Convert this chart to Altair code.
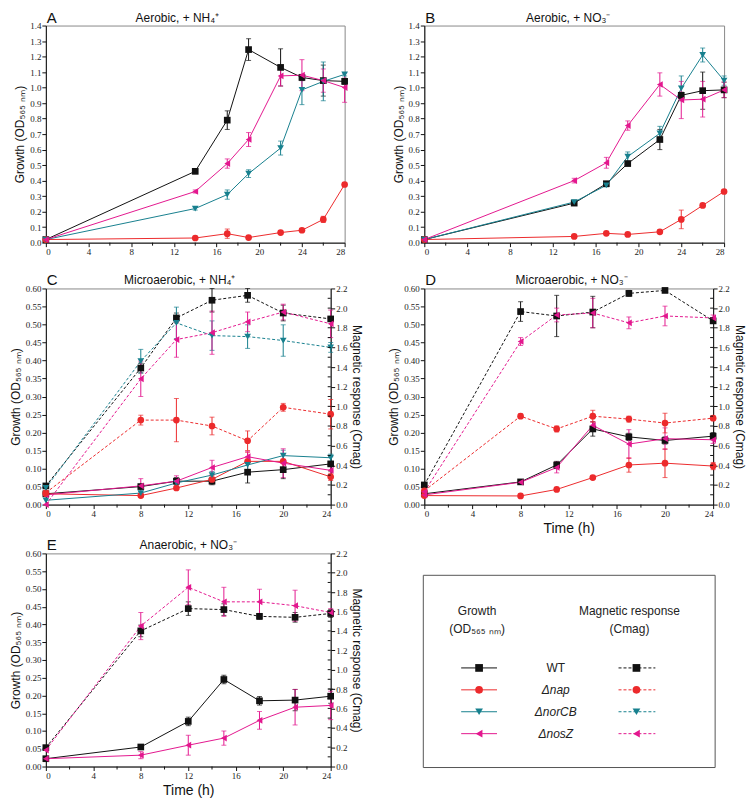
import altair as alt
import pandas as pd

SANS = "Liberation Sans"
SERIF = "Liberation Serif"

strains = ["WT", "Δnap", "ΔnorCB", "ΔnosZ"]
strain_colors = ["#111111", "#ec2a2c", "#17808e", "#e3178e"]
strain_shapes = ["square", "circle", "triangle-down", "triangle-left"]

x_ticks_aerobic = [0, 4, 8, 12, 16, 20, 24, 28]
x_minor_aerobic = [2, 6, 10, 14, 18, 22, 26]
x_ticks_micro = [0, 4, 8, 12, 16, 20, 24]
x_minor_micro = [2, 6, 10, 14, 18, 22]
y_ticks_aerobic = [0.0, 0.1, 0.2, 0.3, 0.4, 0.5, 0.6, 0.7, 0.8, 0.9, 1.0, 1.1, 1.2, 1.3, 1.4]
y_ticks_growth = [0.0, 0.05, 0.10, 0.15, 0.20, 0.25, 0.30, 0.35, 0.40, 0.45, 0.50, 0.55, 0.60]
y_ticks_cmag = [0.0, 0.2, 0.4, 0.6, 0.8, 1.0, 1.2, 1.4, 1.6, 1.8, 2.0, 2.2]
y_inner_cmag = [0.1, 0.2, 0.3, 0.4, 0.5, 0.6, 0.7, 0.8, 0.9, 1.0, 1.1,
                1.2, 1.3, 1.4, 1.5, 1.6, 1.7, 1.8, 1.9, 2.0, 2.1]

# ---------- Panel A: Aerobic, + NH4+ (growth only)
a_time = [0, 14, 17, 19, 22, 24, 26, 28]
a_wt = [0.02, 0.46, 0.79, 1.245, 1.13, 1.065, 1.045, 1.04]
a_wt_err = [0, 0.015, 0.06, 0.07, 0.12, 0.02, 0.10, 0.02]
a_nap = [0.02, 0.03, 0.058, 0.033, 0.065, 0.08, 0.15, 0.375]
a_nap_err = [0, 0.005, 0.03, 0.005, 0.01, 0.01, 0.02, 0.01]
a_nor = [0.02, 0.22, 0.31, 0.445, 0.61, 0.985, 1.04, 1.085]
a_nor_err = [0, 0.01, 0.03, 0.025, 0.045, 0.095, 0.125, 0.01]
a_nos = [0.02, 0.33, 0.51, 0.665, 1.075, 1.08, 1.045, 1.0]
a_nos_err = [0, 0.01, 0.03, 0.045, 0.065, 0.10, 0.075, 0.095]

# ---------- Panel B: Aerobic, + NO3- (growth only)
b_time = [0, 14, 17, 19, 22, 24, 26, 28]
b_wt = [0.02, 0.255, 0.38, 0.51, 0.665, 0.95, 0.98, 0.985]
b_wt_err = [0, 0.01, 0.01, 0.01, 0.065, 0.02, 0.12, 0.05]
b_nap = [0.02, 0.04, 0.06, 0.053, 0.07, 0.15, 0.24, 0.33]
b_nap_err = [0, 0.005, 0.01, 0.005, 0.01, 0.06, 0.01, 0.01]
b_nor = [0.02, 0.262, 0.37, 0.555, 0.705, 0.995, 1.21, 1.045]
b_nor_err = [0, 0.01, 0.01, 0.03, 0.045, 0.08, 0.045, 0.03]
b_nos = [0.02, 0.40, 0.515, 0.755, 1.02, 0.92, 0.925, 0.985]
b_nos_err = [0, 0.015, 0.035, 0.03, 0.075, 0.12, 0.115, 0.05]

# ---------- Panel C: Microaerobic, + NH4+
c_time = [0, 8, 11, 14, 17, 20, 24]
c_wt = [0.03, 0.05, 0.065, 0.065, 0.09, 0.097, 0.113]
c_wt_err = [0, 0.005, 0.01, 0.01, 0.03, 0.025, 0.02]
c_nap = [0.03, 0.025, 0.046, 0.07, 0.12, 0.12, 0.077]
c_nap_err = [0, 0.005, 0.005, 0.01, 0.025, 0.02, 0.01]
c_nor = [0.012, 0.032, 0.06, 0.082, 0.11, 0.136, 0.13]
c_nor_err = [0, 0.005, 0.01, 0.01, 0.015, 0.015, 0.01]
c_nos = [0.027, 0.052, 0.065, 0.103, 0.133, 0.115, 0.095]
c_nos_err = [0, 0.02, 0.015, 0.02, 0.015, 0.04, 0.02]
c_wt_cmag = [0.19, 1.39, 1.90, 2.08, 2.13, 1.95, 1.89]
c_wt_cmag_err = [0, 0.05, 0.05, 0.12, 0.07, 0.08, 0.02]
c_nap_cmag = [0.12, 0.86, 0.86, 0.80, 0.65, 0.99, 0.92]
c_nap_cmag_err = [0, 0.05, 0.22, 0.09, 0.10, 0.04, 0.15]
c_nor_cmag = [0.17, 1.46, 1.85, 1.72, 1.71, 1.67, 1.60]
c_nor_cmag_err = [0, 0.12, 0.16, 0.15, 0.12, 0.16, 0.05]
c_nos_cmag = [0.0, 1.28, 1.68, 1.75, 1.86, 1.96, 1.84]
c_nos_cmag_err = [0, 0.18, 0.18, 0.22, 0.10, 0.08, 0.14]

# ---------- Panel D: Microaerobic, + NO3-
d_time = [0, 8, 11, 14, 17, 20, 24]
d_wt = [0.03, 0.063, 0.11, 0.21, 0.188, 0.178, 0.19]
d_wt_err = [0, 0.005, 0.01, 0.02, 0.01, 0.01, 0.01]
d_nap = [0.025, 0.024, 0.042, 0.075, 0.11, 0.115, 0.107]
d_nap_err = [0, 0.003, 0.004, 0.005, 0.02, 0.04, 0.01]
d_nos = [0.027, 0.062, 0.103, 0.22, 0.168, 0.183, 0.18]
d_nos_err = [0, 0.005, 0.015, 0.01, 0.04, 0.03, 0.01]
d_wt_cmag = [0.20, 1.965, 1.92, 1.96, 2.15, 2.18, 1.87]
d_wt_cmag_err = [0, 0.10, 0.21, 0.16, 0.03, 0.01, 0.02]
d_nap_cmag = [0.14, 0.90, 0.77, 0.90, 0.87, 0.83, 0.88]
d_nap_cmag_err = [0, 0.02, 0.03, 0.06, 0.03, 0.10, 0.02]
d_nos_cmag = [0.13, 1.66, 1.93, 1.95, 1.85, 1.92, 1.90]
d_nos_cmag_err = [0, 0.04, 0.07, 0.15, 0.06, 0.10, 0.03]

# ---------- Panel E: Anaerobic, + NO3-
e_time = [0, 8, 12, 15, 18, 21, 24]
e_wt = [0.022, 0.055, 0.127, 0.245, 0.185, 0.187, 0.198]
e_wt_err = [0, 0.004, 0.012, 0.012, 0.012, 0.03, 0.02]
e_nos = [0.022, 0.032, 0.06, 0.08, 0.13, 0.167, 0.172]
e_nos_err = [0, 0.01, 0.028, 0.02, 0.025, 0.05, 0.04]
e_wt_cmag = [0.195, 1.40, 1.63, 1.62, 1.55, 1.54, 1.58]
e_wt_cmag_err = [0, 0.06, 0.07, 0.06, 0.03, 0.05, 0.04]
e_nos_cmag = [0.17, 1.45, 1.85, 1.70, 1.70, 1.66, 1.59]
e_nos_cmag_err = [0, 0.14, 0.18, 0.15, 0.13, 0.16, 0.04]

growth_title = "Growth (OD₅₆₅ ₙₘ)"
cmag_title = "Magnetic response (Cmag)"


def frame(times, series):
    recs = []
    for strain, vals, errs in series:
        for t, v, e in zip(times, vals, errs):
            recs.append({"strain": strain, "t": t, "v": v, "err": e,
                         "lo": v - e, "hi": v + e})
    return pd.DataFrame(recs)


color_enc = alt.Color("strain:N", scale=alt.Scale(domain=strains, range=strain_colors), legend=None)
shape_enc = alt.Shape("strain:N", scale=alt.Scale(domain=strains, range=strain_shapes), legend=None)


def x_enc(ticks, xmax, title):
    if title:
        ax = alt.Axis(values=ticks, title=title, titleFontSize=14, titlePadding=3)
    else:
        ax = alt.Axis(values=ticks, title=None)
    return alt.X("t:Q", scale=alt.Scale(domain=[0, xmax], nice=False), axis=ax)


def series_layer(df, x, ymax, yticks, fmt, title, orient, dashed, w=None):
    yscale = alt.Scale(domain=[0, ymax], nice=False)
    yaxis = alt.Axis(values=yticks, format=fmt, title=title, orient=orient)
    base = alt.Chart(df)
    if dashed:
        line = base.mark_line(strokeWidth=1, strokeDash=[3, 2])
    else:
        line = base.mark_line(strokeWidth=1)
    line = line.encode(x=x, y=alt.Y("v:Q", scale=yscale, axis=yaxis, title=title), color=color_enc)
    err = base.transform_filter("datum.err > 0").mark_errorbar(ticks=True, thickness=1).encode(
        x=x, y=alt.Y("lo:Q", scale=yscale, axis=yaxis, title=title), y2="hi:Q", color=color_enc)
    pts = base.mark_point(filled=True, size=45, opacity=1).encode(
        x=x, y=alt.Y("v:Q", scale=yscale, axis=yaxis, title=title), color=color_enc, shape=shape_enc)
    layers = [line, err, pts]
    if w is not None:
        inner = alt.Chart(pd.DataFrame({"m": y_inner_cmag})).mark_rule(
            color="#111111", strokeWidth=1
        ).encode(y=alt.Y("m:Q", scale=yscale, axis=yaxis, title=title),
                 x=alt.value(w - 3), x2=alt.value(w))
        layers.append(inner)
    return alt.layer(*layers)


def text_layer(txt, xv, yv, size, align):
    return alt.Chart(pd.DataFrame({"l": [txt]})).mark_text(
        align=align, baseline="alphabetic", fontSize=size, font=SANS, color="#111111"
    ).encode(text="l:N", x=alt.value(xv), y=alt.value(yv))


def panel(letter, title, title_frac, gdf, cdf, xticks, xminor, xmax, ymax, yticks, fmt, xtitle, w, h):
    x = x_enc(xticks, xmax, xtitle)
    g = series_layer(gdf, x, ymax, yticks, fmt, growth_title, "left", False)
    minor = alt.Chart(pd.DataFrame({"t": xminor})).mark_rule(color="#111111", strokeWidth=1).encode(
        x=x, y=alt.value(h), y2=alt.value(h + 3))
    layers = [g, minor]
    if cdf is not None:
        c = series_layer(cdf, x, 2.2, y_ticks_cmag, ".1f", cmag_title, "right", True, w)
        layers.append(c)
    layers.append(text_layer(letter, 1, -3, 15, "left"))
    layers.append(text_layer(title, w * title_frac, -4, 12, "center"))
    ch = alt.layer(*layers)
    if cdf is not None:
        ch = ch.resolve_scale(y="independent")
    return ch.properties(width=w, height=h)


dfA = frame(a_time, [("WT", a_wt, a_wt_err), ("Δnap", a_nap, a_nap_err),
                     ("ΔnorCB", a_nor, a_nor_err), ("ΔnosZ", a_nos, a_nos_err)])
dfB = frame(b_time, [("WT", b_wt, b_wt_err), ("Δnap", b_nap, b_nap_err),
                     ("ΔnorCB", b_nor, b_nor_err), ("ΔnosZ", b_nos, b_nos_err)])
dfC = frame(c_time, [("WT", c_wt, c_wt_err), ("Δnap", c_nap, c_nap_err),
                     ("ΔnorCB", c_nor, c_nor_err), ("ΔnosZ", c_nos, c_nos_err)])
dfCc = frame(c_time, [("WT", c_wt_cmag, c_wt_cmag_err), ("Δnap", c_nap_cmag, c_nap_cmag_err),
                      ("ΔnorCB", c_nor_cmag, c_nor_cmag_err), ("ΔnosZ", c_nos_cmag, c_nos_cmag_err)])
dfD = frame(d_time, [("WT", d_wt, d_wt_err), ("Δnap", d_nap, d_nap_err), ("ΔnosZ", d_nos, d_nos_err)])
dfDc = frame(d_time, [("WT", d_wt_cmag, d_wt_cmag_err), ("Δnap", d_nap_cmag, d_nap_cmag_err),
                      ("ΔnosZ", d_nos_cmag, d_nos_cmag_err)])
dfE = frame(e_time, [("WT", e_wt, e_wt_err), ("ΔnosZ", e_nos, e_nos_err)])
dfEc = frame(e_time, [("WT", e_wt_cmag, e_wt_cmag_err), ("ΔnosZ", e_nos_cmag, e_nos_cmag_err)])

pA = panel("A", "Aerobic, + NH₄⁺", 0.44, dfA, None, x_ticks_aerobic, x_minor_aerobic, 28, 1.4,
           y_ticks_aerobic, ".1f", None, 300, 218)
pB = panel("B", "Aerobic, + NO₃⁻", 0.48, dfB, None, x_ticks_aerobic, x_minor_aerobic, 28, 1.4,
           y_ticks_aerobic, ".1f", None, 301, 218)
pC = panel("C", "Microaerobic, + NH₄⁺", 0.47, dfC, dfCc, x_ticks_micro, x_minor_micro, 24, 0.6,
           y_ticks_growth, ".2f", None, 286, 217)
pD = panel("D", "Microaerobic, + NO₃⁻", 0.51, dfD, dfDc, x_ticks_micro, x_minor_micro, 24, 0.6,
           y_ticks_growth, ".2f", "Time (h)", 290, 217)
pE = panel("E", "Anaerobic, + NO₃⁻", 0.5, dfE, dfEc, x_ticks_micro, x_minor_micro, 24, 0.6,
           y_ticks_growth, ".2f", "Time (h)", 286, 214)

# ---------- Legend panel
LEG_W = 293
LEG_H = 215
leg_df = pd.DataFrame({"strain": strains})
leg_y = alt.Y("strain:N", scale=alt.Scale(type="point", domain=strains, range=[115, 181], padding=0), axis=None)
legbase = alt.Chart(leg_df)
one = pd.DataFrame({"k": [0]})

box = alt.Chart(one).mark_rect(fill="white", fillOpacity=0, stroke="#555555", strokeWidth=1).encode(
    x=alt.value(0), x2=alt.value(LEG_W), y=alt.value(22), y2=alt.value(LEG_H))


def hdr(txt, xv, yv):
    return alt.Chart(pd.DataFrame({"s": [txt]})).mark_text(
        font=SANS, fontSize=12, align="center", baseline="middle", color="#222222"
    ).encode(text="s:N", x=alt.value(xv), y=alt.value(yv))


g_rule = legbase.mark_rule(strokeWidth=1).encode(x=alt.value(38), x2=alt.value(74), y=leg_y, color=color_enc)
g_pts = legbase.mark_point(filled=True, size=60, opacity=1).encode(x=alt.value(56), y=leg_y, color=color_enc, shape=shape_enc)
c_rule = legbase.mark_rule(strokeWidth=1, strokeDash=[3, 2]).encode(x=alt.value(196), x2=alt.value(233), y=leg_y, color=color_enc)
c_pts = legbase.mark_point(filled=True, size=60, opacity=1).encode(x=alt.value(214), y=leg_y, color=color_enc, shape=shape_enc)
lab_wt = legbase.transform_filter("datum.strain == 'WT'").mark_text(
    font=SANS, fontSize=12, align="center", baseline="middle", color="#222222").encode(
    text="strain:N", x=alt.value(133), y=leg_y)
lab_mut = legbase.transform_filter("datum.strain != 'WT'").mark_text(
    font=SANS, fontSize=12, fontStyle="italic", align="center", baseline="middle", color="#222222").encode(
    text="strain:N", x=alt.value(133), y=leg_y)

legend_panel = alt.layer(
    box, hdr("Growth", 54, 58), hdr("(OD₅₆₅ ₙₘ)", 54, 76),
    hdr("Magnetic response", 207, 58), hdr("(Cmag)", 207, 76),
    g_rule, c_rule, g_pts, c_pts, lab_wt, lab_mut,
).properties(width=LEG_W, height=LEG_H, view=alt.ViewBackground(stroke="transparent"))

row1 = alt.hconcat(pA, pB, spacing=43)
row2 = alt.hconcat(pC, pD, spacing=23)
row3 = alt.hconcat(pE, legend_panel, spacing=59)

chart = alt.vconcat(alt.vconcat(row1, row2, spacing=15), row3, spacing=1).properties(
    padding=0
).configure_axis(
    labelFont=SERIF, labelFontSize=9, labelColor="#222222",
    titleFont=SANS, titleFontSize=12, titleFontWeight="normal", titleColor="#111111",
    domainColor="#111111", tickColor="#111111", tickSize=4, grid=False,
    labelPadding=1, titlePadding=3,
).configure_view(stroke="#888888", strokeWidth=1)

chart.save("out.html", embed_options={"renderer": "svg", "actions": False})
